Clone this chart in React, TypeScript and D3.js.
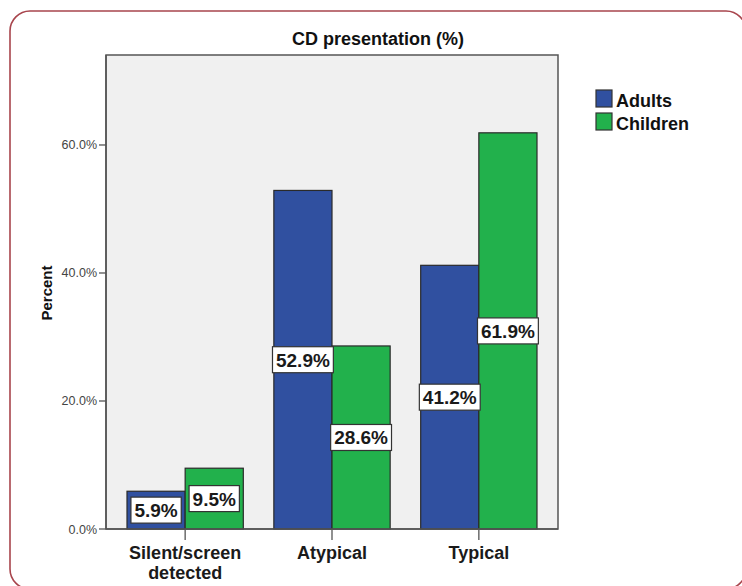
import React from "react";
import * as d3 from "d3";

// Clinical presentation of coeliac disease, percentage by age group
const categories = ["Silent/screen detected", "Atypical", "Typical"];
const categoryLines = [["Silent/screen", "detected"], ["Atypical"], ["Typical"]];
const series = ["Adults", "Children"];
const adults = [5.9, 52.9, 41.2];
const children = [9.5, 28.6, 61.9];
const yTicks = [0, 20, 40, 60];
const colors = ["#3050a0", "#22b14c"];

const W = 742;
const H = 586;
const plot = { left: 106, right: 558, top: 55, bottom: 529 };
const font = "'Liberation Sans', Arial, sans-serif";

export default function App() {
  const values = [adults, children];

  const y = d3
    .scaleLinear()
    .domain([0, 74.06])
    .range([plot.bottom, plot.top]);

  const x = d3
    .scaleBand<string>()
    .domain(categories)
    .range([plot.left, plot.right])
    .paddingInner(0.208)
    .paddingOuter(0.143);

  const sub = d3
    .scaleBand<string>()
    .domain(series)
    .range([0, x.bandwidth()]);

  const fmt = (v: number) => `${v.toFixed(1)}%`;
  const labelFont = 19;
  const charW = (s: string) => {
    let w = 0;
    for (const c of s) w += c === "%" ? 0.889 : c === "." ? 0.278 : 0.556;
    return w * labelFont;
  };

  return (
    <div style={{ position: "absolute", left: 0, top: 0 }}>
      <svg width={W} height={H} style={{ display: "block", fontFamily: font }}>
        <rect x={0} y={0} width={W} height={H} fill="#ffffff" />
        <rect
          x={10}
          y={11}
          width={736}
          height={578}
          rx={20}
          ry={20}
          fill="#ffffff"
          stroke="#a8454d"
          strokeWidth={1.6}
        />

        <text
          x={378}
          y={45}
          textAnchor="middle"
          fontSize={18}
          fontWeight="bold"
          fill="#111"
        >
          CD presentation (%)
        </text>

        <rect
          x={plot.left}
          y={plot.top}
          width={plot.right - plot.left}
          height={plot.bottom - plot.top}
          fill="#f0f0f0"
          stroke="#555"
          strokeWidth={1.5}
        />

        {/* bars */}
        {categories.map((cat, ci) =>
          series.map((s, si) => {
            const v = values[si][ci];
            const bx = (x(cat) ?? 0) + (sub(s) ?? 0);
            return (
              <rect
                key={`${cat}-${s}`}
                x={bx}
                y={y(v)}
                width={sub.bandwidth()}
                height={y(0) - y(v)}
                fill={colors[si]}
                stroke="#2a2a2a"
                strokeWidth={1.2}
              />
            );
          })
        )}

        {/* value labels at bar midpoints */}
        {categories.map((cat, ci) =>
          series.map((s, si) => {
            const v = values[si][ci];
            const cx = (x(cat) ?? 0) + (sub(s) ?? 0) + sub.bandwidth() / 2;
            const cy = (y(v) + y(0)) / 2;
            const txt = fmt(v);
            const bw = charW(txt) + 7;
            const bh = 26;
            return (
              <g key={`lab-${cat}-${s}`}>
                <rect
                  x={cx - bw / 2}
                  y={cy - bh / 2}
                  width={bw}
                  height={bh}
                  fill="#ffffff"
                  stroke="#333"
                  strokeWidth={1.2}
                />
                <text
                  x={cx}
                  y={cy + 7}
                  textAnchor="middle"
                  fontSize={labelFont}
                  fontWeight="bold"
                  fill="#1a1a1a"
                >
                  {txt}
                </text>
              </g>
            );
          })
        )}

        {/* y axis */}
        <line
          x1={plot.left}
          x2={plot.left}
          y1={plot.top}
          y2={plot.bottom}
          stroke="#555"
          strokeWidth={1.5}
        />
        {yTicks.map((t) => (
          <g key={t}>
            <line
              x1={plot.left - 7}
              x2={plot.left}
              y1={y(t)}
              y2={y(t)}
              stroke="#555"
              strokeWidth={1.3}
            />
            <text
              x={plot.left - 9}
              y={y(t) + 4.5}
              textAnchor="end"
              fontSize={12.5}
              fill="#444"
            >
              {`${t.toFixed(1)}%`}
            </text>
          </g>
        ))}
        <text
          transform={`translate(52, 293) rotate(-90)`}
          textAnchor="middle"
          fontSize={15}
          fontWeight="bold"
          fill="#111"
        >
          Percent
        </text>

        {/* x axis */}
        <line
          x1={plot.left}
          x2={plot.right}
          y1={plot.bottom}
          y2={plot.bottom}
          stroke="#555"
          strokeWidth={1.5}
        />
        {categories.map((cat, ci) => {
          const cx = (x(cat) ?? 0) + x.bandwidth() / 2;
          return (
            <g key={`xt-${cat}`}>
              <line
                x1={cx}
                x2={cx}
                y1={plot.bottom}
                y2={plot.bottom + 11}
                stroke="#555"
                strokeWidth={1.3}
              />
              {categoryLines[ci].map((ln, li) => (
                <text
                  key={ln}
                  x={cx}
                  y={559 + li * 20}
                  textAnchor="middle"
                  fontSize={18}
                  fontWeight="bold"
                  fill="#1a1a1a"
                >
                  {ln}
                </text>
              ))}
            </g>
          );
        })}

        {/* legend */}
        {series.map((s, si) => (
          <g key={`leg-${s}`} transform={`translate(596, ${90 + si * 23})`}>
            <rect
              width={16}
              height={17}
              fill={colors[si]}
              stroke="#333"
              strokeWidth={1.2}
            />
            <text x={20} y={17} fontSize={18} fontWeight="bold" fill="#111">
              {s}
            </text>
          </g>
        ))}
      </svg>
    </div>
  );
}
